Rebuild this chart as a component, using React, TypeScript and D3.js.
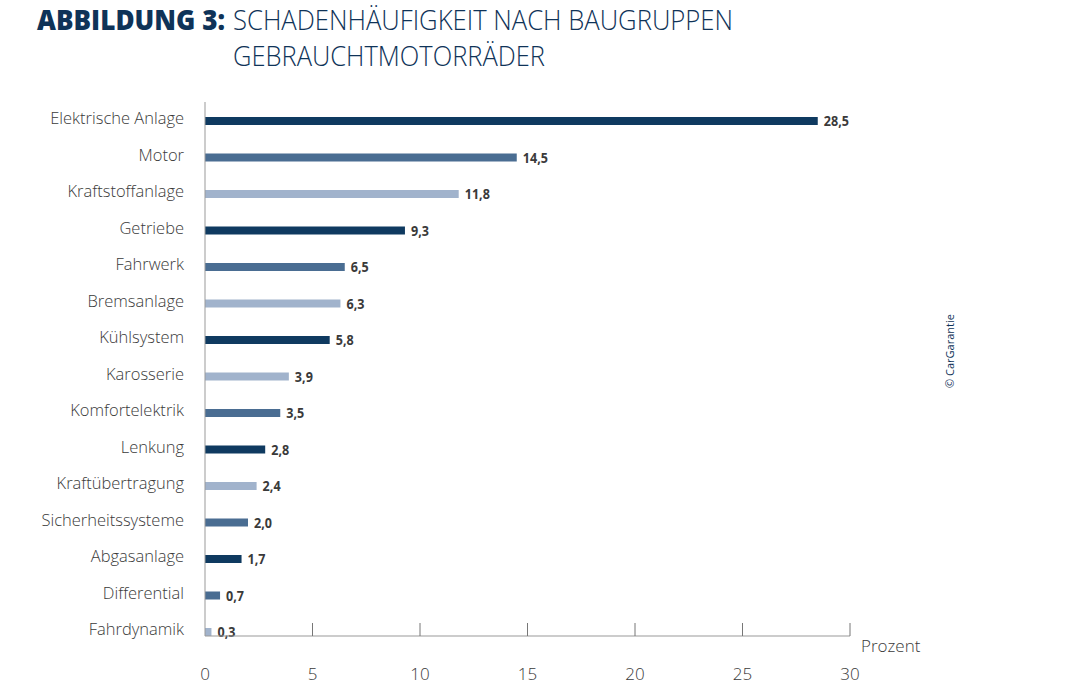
import React from "react";
import * as d3 from "d3";

const categories = [
  "Elektrische Anlage", "Motor", "Kraftstoffanlage", "Getriebe", "Fahrwerk",
  "Bremsanlage", "Kühlsystem", "Karosserie", "Komfortelektrik", "Lenkung",
  "Kraftübertragung", "Sicherheitssysteme", "Abgasanlage", "Differential", "Fahrdynamik",
];
const values = [28.5, 14.5, 11.8, 9.3, 6.5, 6.3, 5.8, 3.9, 3.5, 2.8, 2.4, 2.0, 1.7, 0.7, 0.3];
const shades = ["d", "m", "l", "d", "m", "l", "d", "l", "m", "d", "l", "m", "d", "m", "l"];
const xTicks = [0, 5, 10, 15, 20, 25, 30];

const colorMap: Record<string, string> = { d: "#0f3a60", m: "#4a6d92", l: "#a1b3cc" };

export default function App() {
  const W = 1070, H = 691;
  const x0 = 205, x1 = 850;
  const axisY = 636;
  const x = d3.scaleLinear().domain([0, 30]).range([x0, x1]);
  const y = d3.scalePoint<string>().domain(categories).range([121, 632]);
  const barH = 8;
  const light = "'Open Sans', 'Noto Sans', sans-serif";
  return (
    <svg width={W} height={H} style={{ position: "absolute", left: 0, top: 0, background: "#fff" }}>
      <text x={37} y={30} fontFamily={light} fontWeight={800} fontSize={28} fill="#0f3358"
        textLength={188} lengthAdjust="spacingAndGlyphs">ABBILDUNG 3:</text>
      <text x={233} y={30} fontFamily={light} fontWeight={300} fontSize={28} fill="#0f3358"
        textLength={500} lengthAdjust="spacingAndGlyphs">SCHADENHÄUFIGKEIT NACH BAUGRUPPEN</text>
      <text x={233} y={66} fontFamily={light} fontWeight={300} fontSize={28} fill="#0f3358"
        textLength={312} lengthAdjust="spacingAndGlyphs">GEBRAUCHTMOTORRÄDER</text>

      {categories.map((c, i) => {
        const cy = y(c)!;
        const label = values[i].toFixed(1).replace(".", ",");
        return (
          <g key={c}>
            <text transform={`translate(184,${cy + 3}) scale(0.97,1)`} textAnchor="end" fontFamily={light} fontWeight={300} fontSize={17} fill="#3a3a3a">{c}</text>
            <rect x={x(0)} y={cy - barH / 2} width={x(values[i]) - x(0)} height={barH} fill={colorMap[shades[i]]} />
            <text transform={`translate(${x(values[i]) + 6},${cy + 5}) scale(0.84,1)`} fontFamily={light} fontWeight="bold" fontSize={15} fill="#3a3a3a">
              {label}
            </text>
          </g>
        );
      })}

      <line x1={x0} x2={x0} y1={102} y2={axisY} stroke="#999" strokeWidth={1} />
      <line x1={x0} x2={x1} y1={axisY} y2={axisY} stroke="#999" strokeWidth={1.2} />
      {xTicks.map((t) => (
        <g key={t}>
          {t > 0 && <line x1={x(t)} x2={x(t)} y1={axisY - 13} y2={axisY} stroke="#777" strokeWidth={1} />}
          <text x={x(t)} y={680} textAnchor="middle" fontFamily={light} fontWeight={300} fontSize={17} fill="#3a3a3a">{t}</text>
        </g>
      ))}
      <text x={861} y={652} fontFamily={light} fontWeight={300} fontSize={17} fill="#3a3a3a">Prozent</text>

      <text transform="translate(954,388) rotate(-90)" fontFamily={light} fontSize={11} fill="#0f3358">© CarGarantie</text>
    </svg>
  );
}
